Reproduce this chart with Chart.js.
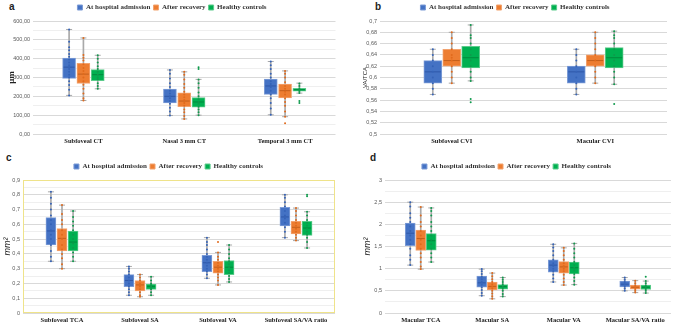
<!DOCTYPE html>
<html>
<head>
<meta charset="utf-8">
<script src="https://cdn.jsdelivr.net/npm/chart.js@4"></script>
<style>
  body { margin: 0; background: #fff; width: 676px; height: 324px; position: relative; overflow: hidden; }
  .panel { position: absolute; }
  .tag { position: absolute; font: bold 10px "Liberation Sans", Arial, sans-serif; color: #222; }
</style>
</head>
<body>
<div class="tag" style="left:9px;top:1px">a</div>
<div class="tag" style="left:375px;top:1px">b</div>
<div class="tag" style="left:6px;top:152px">c</div>
<div class="tag" style="left:370px;top:152px">d</div>
<div class="panel" style="left:0;top:0"><canvas id="chartA" width="342" height="148"></canvas></div>
<div class="panel" style="left:338px;top:0"><canvas id="chartB" width="338" height="148"></canvas></div>
<div class="panel" style="left:0;top:160px"><canvas id="chartC" width="342" height="164"></canvas></div>
<div class="panel" style="left:338px;top:160px"><canvas id="chartD" width="338" height="164"></canvas></div>
<script>
const seriesNames = ['At hospital admission', 'After recovery', 'Healthy controls'];
const colors = ['#4472C4', '#ED7D31', '#00B050'];
const boxBorders = ['#7d9cd6', '#f2a36f', '#5ccb8b'];
const medianColors = ['#2f58a8', '#c45f1c', '#008a3d'];
const dotColors = ['#3563b8', '#e06a1c', '#0f9a4c'];
const whiskerColor = '#a9a9a9';

// panel a: choroidal thickness (µm); arrays are [series][category]
const aCategories = ['Subfoveal CT', 'Nasal 3 mm CT', 'Temporal 3 mm CT'];
const aMin = [[205, 98, 102], [178, 80, 92], [240, 100, 217]];
const aQ1 = [[295, 165, 210], [268, 145, 192], [283, 143, 228]];
const aMedian = [[355, 200, 255], [318, 175, 230], [315, 170, 235]];
const aQ3 = [[403, 238, 292], [375, 218, 265], [342, 193, 242]];
const aMax = [[555, 340, 385], [510, 330, 335], [418, 290, 270]];
const aDots = [
  [[205, 235, 260, 280, 300, 315, 330, 345, 355, 365, 380, 395, 410, 425, 445, 460, 490, 555],
   [98, 120, 140, 160, 175, 190, 200, 215, 230, 250, 270, 295, 320, 340],
   [102, 135, 165, 190, 210, 230, 250, 265, 280, 300, 320, 345, 365, 385]],
  [[178, 190, 215, 240, 262, 280, 300, 318, 335, 350, 370, 390, 405, 420, 510],
   [80, 95, 115, 130, 150, 165, 180, 195, 210, 225, 245, 265, 290, 315, 330],
   [57, 92, 120, 150, 170, 190, 210, 225, 240, 255, 275, 300, 320, 335]],
  [[240, 255, 270, 290, 300, 315, 330, 345, 360, 380, 400, 418],
   [100, 115, 130, 145, 160, 170, 185, 200, 220, 245, 270, 290, 345, 355],
   [165, 175, 218, 228, 235, 242, 255, 268]]
];

// panel b: choroidal vascularity index
const bCategories = ['Subfoveal CVI', 'Macular CVI'];
const bMin = [[0.57, 0.57], [0.59, 0.59], [0.594, 0.588]];
const bQ1 = [[0.59, 0.59], [0.62, 0.62], [0.617, 0.617]];
const bMedian = [[0.61, 0.61], [0.63, 0.63], [0.635, 0.635]];
const bQ3 = [[0.63, 0.62], [0.65, 0.64], [0.655, 0.653]];
const bMax = [[0.65, 0.65], [0.68, 0.68], [0.693, 0.682]];
const bDots = [
  [[0.57, 0.58, 0.59, 0.60, 0.61, 0.62, 0.63, 0.64, 0.65],
   [0.57, 0.58, 0.59, 0.60, 0.61, 0.62, 0.63, 0.64, 0.65]],
  [[0.59, 0.60, 0.61, 0.62, 0.63, 0.635, 0.64, 0.65, 0.66, 0.67, 0.68],
   [0.59, 0.60, 0.61, 0.62, 0.63, 0.64, 0.65, 0.66, 0.67, 0.68]],
  [[0.556, 0.562, 0.594, 0.60, 0.61, 0.62, 0.63, 0.64, 0.65, 0.66, 0.67, 0.675, 0.693],
   [0.553, 0.588, 0.60, 0.61, 0.62, 0.63, 0.64, 0.65, 0.66, 0.67, 0.675, 0.682]]
];

// panel c: subfoveal areas (mm²)
const cCategories = ['Subfoveal TCA', 'Subfoveal SA', 'Subfoveal VA', 'Subfoveal SA/VA ratio'];
const cMin = [[0.35, 0.12, 0.235, 0.51], [0.30, 0.11, 0.19, 0.49], [0.35, 0.12, 0.21, 0.44]];
const cQ1 = [[0.46, 0.178, 0.28, 0.59], [0.42, 0.15, 0.27, 0.535], [0.42, 0.16, 0.26, 0.525]];
const cMedian = [[0.555, 0.22, 0.34, 0.65], [0.505, 0.19, 0.31, 0.58], [0.48, 0.18, 0.31, 0.575]];
const cQ3 = [[0.645, 0.26, 0.39, 0.715], [0.572, 0.22, 0.35, 0.62], [0.555, 0.195, 0.355, 0.62]];
const cMax = [[0.82, 0.315, 0.51, 0.80], [0.73, 0.26, 0.41, 0.71], [0.69, 0.245, 0.46, 0.685]];
const cDots = [
  [[0.35, 0.38, 0.42, 0.46, 0.5, 0.53, 0.56, 0.6, 0.63, 0.66, 0.7, 0.74, 0.78, 0.82],
   [0.12, 0.14, 0.16, 0.18, 0.2, 0.22, 0.24, 0.26, 0.28, 0.3, 0.315],
   [0.235, 0.26, 0.28, 0.3, 0.32, 0.34, 0.36, 0.38, 0.4, 0.43, 0.46, 0.48, 0.51],
   [0.51, 0.55, 0.58, 0.61, 0.64, 0.66, 0.69, 0.72, 0.75, 0.78, 0.8]],
  [[0.3, 0.33, 0.37, 0.4, 0.43, 0.46, 0.5, 0.53, 0.56, 0.6, 0.63, 0.67, 0.73],
   [0.11, 0.12, 0.14, 0.16, 0.18, 0.19, 0.2, 0.22, 0.24, 0.26],
   [0.19, 0.22, 0.24, 0.26, 0.28, 0.3, 0.32, 0.34, 0.36, 0.38, 0.41, 0.48],
   [0.49, 0.51, 0.53, 0.55, 0.57, 0.59, 0.61, 0.63, 0.66, 0.69, 0.71]],
  [[0.35, 0.38, 0.41, 0.44, 0.47, 0.5, 0.53, 0.56, 0.59, 0.62, 0.65, 0.69],
   [0.12, 0.14, 0.16, 0.17, 0.18, 0.19, 0.2, 0.22, 0.245],
   [0.21, 0.23, 0.25, 0.27, 0.29, 0.31, 0.33, 0.35, 0.37, 0.4, 0.43, 0.46],
   [0.44, 0.48, 0.51, 0.53, 0.55, 0.57, 0.59, 0.61, 0.63, 0.66, 0.685, 0.79, 0.8]]
];

// panel d: macular areas (mm²)
const dCategories = ['Macular TCA', 'Macular SA', 'Macular VA', 'Macular SA/VA ratio'];
const dMin = [[1.08, 0.39, 0.70, 0.50], [0.99, 0.32, 0.63, 0.46], [1.15, 0.37, 0.64, 0.45]];
const dQ1 = [[1.52, 0.58, 0.92, 0.59], [1.41, 0.52, 0.90, 0.54], [1.42, 0.54, 0.88, 0.53]];
const dMedian = [[1.80, 0.68, 1.08, 0.65], [1.68, 0.60, 1.04, 0.58], [1.63, 0.60, 1.02, 0.58]];
const dQ3 = [[2.03, 0.83, 1.20, 0.72], [1.87, 0.70, 1.16, 0.63], [1.79, 0.64, 1.15, 0.63]];
const dMax = [[2.50, 0.99, 1.55, 0.80], [2.39, 0.90, 1.47, 0.73], [2.37, 0.80, 1.57, 0.72]];
const dDots = [
  [[1.08, 1.2, 1.3, 1.45, 1.55, 1.65, 1.75, 1.85, 1.95, 2.05, 2.15, 2.25, 2.4, 2.5],
   [0.39, 0.45, 0.52, 0.58, 0.64, 0.7, 0.76, 0.82, 0.88, 0.94, 0.99],
   [0.7, 0.78, 0.86, 0.94, 1.0, 1.06, 1.12, 1.2, 1.3, 1.4, 1.48, 1.55],
   [0.5, 0.55, 0.6, 0.65, 0.7, 0.75, 0.8]],
  [[0.99, 1.05, 1.15, 1.25, 1.35, 1.45, 1.55, 1.65, 1.75, 1.85, 1.95, 2.05, 2.2, 2.39],
   [0.32, 0.38, 0.44, 0.5, 0.55, 0.6, 0.65, 0.7, 0.76, 0.83, 0.9],
   [0.63, 0.7, 0.78, 0.86, 0.94, 1.0, 1.06, 1.12, 1.2, 1.3, 1.4, 1.47],
   [0.46, 0.5, 0.54, 0.58, 0.62, 0.67, 0.73]],
  [[1.15, 1.25, 1.35, 1.45, 1.55, 1.65, 1.75, 1.85, 1.95, 2.05, 2.2, 2.3, 2.37],
   [0.37, 0.43, 0.5, 0.55, 0.6, 0.65, 0.7, 0.75, 0.8],
   [0.64, 0.72, 0.8, 0.88, 0.96, 1.02, 1.08, 1.15, 1.25, 1.35, 1.45, 1.57],
   [0.45, 0.5, 0.54, 0.58, 0.62, 0.67, 0.72, 0.82]]
];

const serif = '"Liberation Serif", "Times New Roman", serif';
const sans = '"Liberation Sans", Arial, sans-serif';
const comma = v => String(Number(v.toFixed(2))).replace('.', ',');

const yellowFrame = {
  id: 'yellowFrame',
  afterDraw(chart) {
    if (!chart.options.plugins.yellowFrame) return;
    const a = chart.chartArea, ctx = chart.ctx;
    ctx.save();
    ctx.strokeStyle = '#efe38a';
    ctx.lineWidth = 1;
    ctx.strokeRect(a.left + 0.5, a.top + 0.5, a.right - a.left - 1, a.bottom - a.top - 1);
    ctx.restore();
  }
};

function boxChart(id, p) {
  const datasets = [];
  seriesNames.forEach((name, s) => {
    const xs = p.categories.map((c, i) => i + (s - 1) * p.gap);
    datasets.push({
      type: 'bar', order: 5, grouped: false, barThickness: 1,
      data: xs.map((x, i) => ({ x, y: [p.min[s][i], p.max[s][i]] })),
      backgroundColor: whiskerColor
    });
    datasets.push({
      type: 'bar', order: 4, label: name, isBox: true, grouped: false,
      barThickness: p.boxWidth, borderSkipped: false, borderWidth: 1,
      data: xs.map((x, i) => ({ x, y: [p.q1[s][i], p.q3[s][i]] })),
      backgroundColor: colors[s], borderColor: boxBorders[s]
    });
    datasets.push({
      type: 'line', order: 3, showLine: false, pointStyle: 'line', pointRadius: 3,
      pointBorderWidth: 1, pointBorderColor: whiskerColor, borderColor: whiskerColor,
      data: xs.flatMap((x, i) => [{ x, y: p.min[s][i] }, { x, y: p.max[s][i] }])
    });
    datasets.push({
      type: 'line', order: 2, showLine: false, pointStyle: 'line', pointRadius: p.boxWidth / 2 - 1,
      pointBorderWidth: 1, pointBorderColor: medianColors[s], borderColor: medianColors[s],
      data: xs.map((x, i) => ({ x, y: p.median[s][i] }))
    });
    datasets.push({
      type: 'line', order: 1, showLine: false, pointRadius: 1, pointBorderWidth: 0,
      pointBackgroundColor: dotColors[s], borderColor: dotColors[s],
      data: xs.flatMap((x, i) => p.dots[s][i].map(v => ({ x, y: v })))
    });
  });

  return new Chart(document.getElementById(id), {
    type: 'bar',
    data: { datasets },
    plugins: [yellowFrame],
    options: {
      responsive: false,
      animation: false,
      events: [],
      layout: { padding: p.padding },
      plugins: {
        yellowFrame: !!p.frame,
        tooltip: { enabled: false },
        legend: {
          position: 'top',
          labels: {
            filter: (item, data) => data.datasets[item.datasetIndex].isBox,
            boxWidth: 5, boxHeight: 5, padding: 3,
            color: '#333',
            font: { family: serif, size: 7, weight: 'bold' }
          }
        }
      },
      scales: {
        x: {
          type: 'linear', min: -0.5, max: p.categories.length - 0.5, offset: false,
          display: false
        },
        names: {
          type: 'category', labels: p.categories, position: 'bottom', offset: true,
          grid: { display: false, drawTicks: false },
          border: { display: false },
          ticks: {
            autoSkip: false, maxRotation: 0, padding: 3,
            color: '#222',
            font: { family: serif, size: 6.5, weight: 'bold' }
          },
          afterFit: s => { s.height = p.xHeight; }
        },
        y: {
          min: p.yMin, max: p.yMax,
          border: { display: false },
          grid: {
            drawTicks: false,
            color: c => p.isMajor(c.tick.value) ? '#d9d9d9' : '#efefef'
          },
          ticks: {
            stepSize: p.step, autoSkip: false, maxTicksLimit: 100, padding: 3,
            color: '#595959',
            font: { family: sans, size: 5.5 },
            callback: v => p.isMajor(v) ? p.format(v) : ''
          },
          title: {
            display: true, text: p.yTitle, padding: 0, color: '#222',
            font: p.yTitleFont
          },
          afterFit: s => { s.width = p.yWidth; }
        }
      }
    }
  });
}

boxChart('chartA', {
  categories: aCategories, min: aMin, q1: aQ1, median: aMedian, q3: aQ3, max: aMax, dots: aDots,
  gap: 0.142, boxWidth: 13, yMin: 0, yMax: 600, step: 50,
  isMajor: v => Math.round(v) % 100 === 0,
  format: v => v.toFixed(2).replace('.', ','),
  yTitle: 'µm', yTitleFont: { family: serif, size: 9, weight: 'bold' },
  padding: { left: 6, right: 4, top: 1, bottom: 2 }, yWidth: 27, xHeight: 12
});

boxChart('chartB', {
  categories: bCategories, min: bMin, q1: bQ1, median: bMedian, q3: bQ3, max: bMax, dots: bDots,
  gap: 0.132, boxWidth: 18, yMin: 0.5, yMax: 0.7, step: 0.02,
  isMajor: v => true,
  format: comma,
  yTitle: 'VA/TCA', yTitleFont: { family: sans, size: 6 },
  padding: { left: 24, right: 8, top: 1, bottom: 2 }, yWidth: 18, xHeight: 12
});

boxChart('chartC', {
  categories: cCategories, min: cMin, q1: cQ1, median: cMedian, q3: cQ3, max: cMax, dots: cDots,
  gap: 0.142, boxWidth: 10, yMin: 0, yMax: 0.9, step: 0.05, frame: true,
  isMajor: v => Math.round(v * 100) % 10 === 0,
  format: comma,
  yTitle: 'mm²', yTitleFont: { family: sans, size: 9, style: 'italic' },
  padding: { left: 2, right: 7, top: 0, bottom: 0 }, yWidth: 21, xHeight: 11
});

boxChart('chartD', {
  categories: dCategories, min: dMin, q1: dQ1, median: dMedian, q3: dQ3, max: dMax, dots: dDots,
  gap: 0.147, boxWidth: 10, yMin: 0, yMax: 3, step: 0.25,
  isMajor: v => Math.round(v * 100) % 50 === 0,
  format: comma,
  yTitle: 'mm²', yTitleFont: { family: sans, size: 9, style: 'italic' },
  padding: { left: 24, right: 5, top: 0, bottom: 0 }, yWidth: 23, xHeight: 11
});
</script>
</body>
</html>
